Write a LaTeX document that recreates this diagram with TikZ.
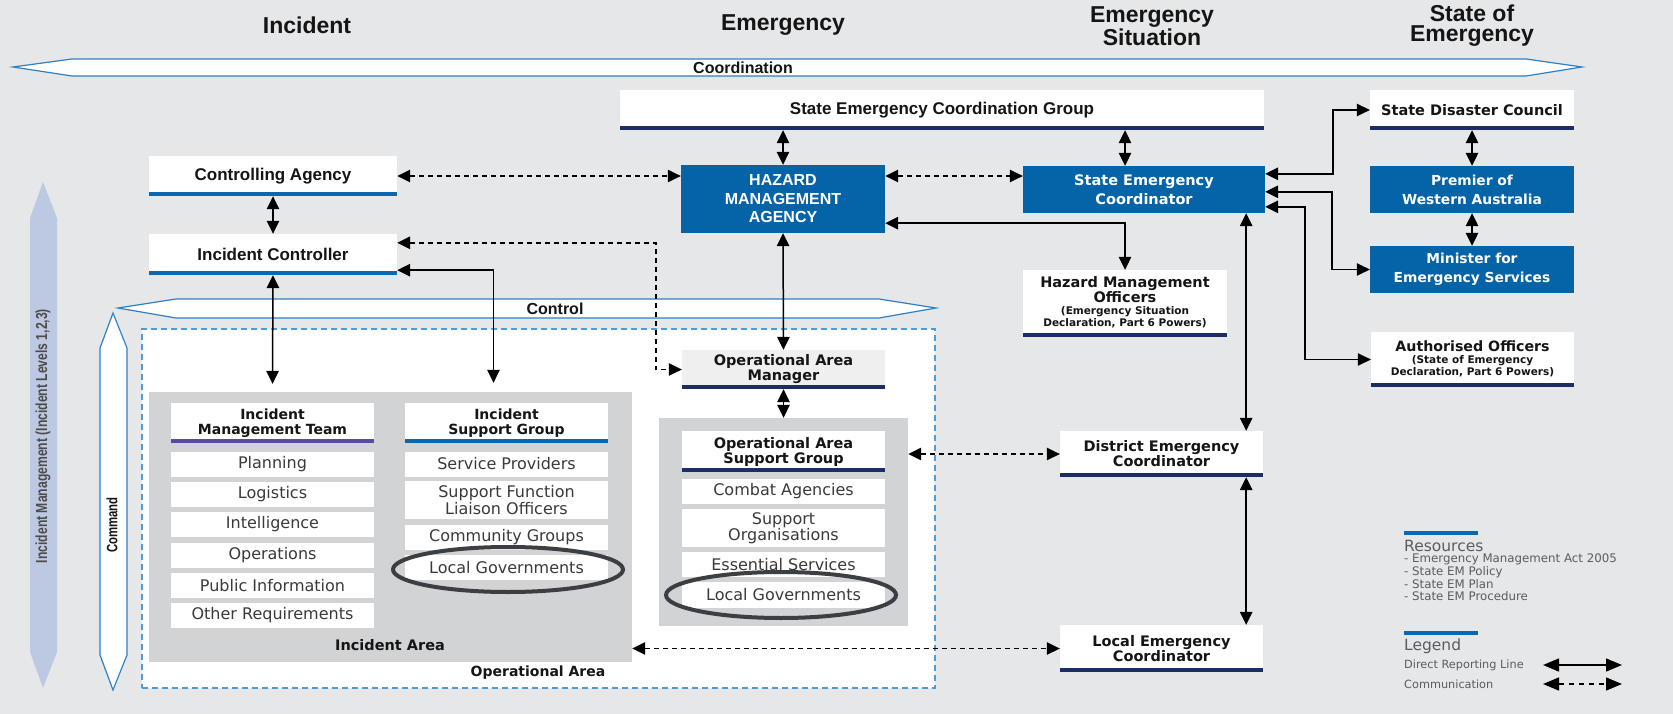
\documentclass[tikz,border=0pt]{standalone}
\usepackage{fontspec}
\setmainfont{Liberation Sans}
\newfontfamily\wide{DejaVu Sans}
\newfontfamily\condf[FakeStretch=0.76]{Liberation Sans}
\usetikzlibrary{arrows.meta,calc}
\definecolor{bg}{HTML}{E6E7E9}
\definecolor{navy}{HTML}{1C2C66}
\definecolor{midblue}{HTML}{0A68B0}
\definecolor{purp}{HTML}{5B4B9E}
\definecolor{hblue}{HTML}{0563A7}
\definecolor{outl}{HTML}{2F80C2}
\definecolor{oadash}{HTML}{4F9CD4}
\definecolor{iagray}{HTML}{D1D3D5}
\definecolor{lav}{HTML}{BDC9E3}
\definecolor{ellc}{HTML}{3B3E42}
\definecolor{txt}{HTML}{151515}
\definecolor{itxt}{HTML}{3A3A3A}
\definecolor{legtxt}{HTML}{5A5C60}
\definecolor{oamfill}{HTML}{EFEFF0}
\newcommand\fs[2]{\fontsize{#1}{#2}\selectfont}
\newcommand\ubar[2]{\fill[#2] ([yshift=4pt]#1.south west) rectangle (#1.south east);}
\begin{document}
\begin{tikzpicture}[x=1pt,y=-1pt,
  wb/.style={fill=white, inner sep=0pt, align=center, text=txt},
  bb/.style={fill=hblue, inner sep=0pt, align=center, text=white},
  hd/.style={font=\wide\bfseries\fs{14.5}{15}},
  din/.style={font=\bfseries\fs{17}{18}},
  it/.style={fill=white, inner sep=0pt, align=center, text=itxt, minimum width=203pt, minimum height=25pt, font=\wide\fs{16}{15}},
  lbl/.style={inner sep=0pt, text=txt, align=center},
  con/.style={line width=1.5pt, draw=black, line join=miter, {Triangle[length=13pt,width=12.5pt]}-{Triangle[length=13pt,width=12.5pt]}},
  com/.style={con, dash pattern=on 5pt off 4pt},
  legarr/.style={line width=1.5pt, draw=black, {Triangle[length=16pt,width=13pt]}-{Triangle[length=16pt,width=13pt]}},
  bigarrow/.style={draw=outl, line width=1.2pt, fill=white, line join=miter},
  legt/.style={anchor=west, inner sep=0pt, text=legtxt, align=left}
]
% background
\fill[bg] (0,0) rectangle (1673,714);

% big arrows
\fill[lav] (43,182) -- (57,218) -- (57,652) -- (43,688) -- (30,652) -- (30,218) -- cycle;
\draw[bigarrow] (13,67) -- (72,59) -- (1526,59) -- (1582,67) -- (1526,76) -- (72,76) -- cycle;
\draw[bigarrow] (113,313) -- (127,348) -- (127,655) -- (113,690) -- (100,655) -- (100,348) -- cycle;
\draw[bigarrow] (118,308) -- (176,299) -- (879,299) -- (936,308) -- (879,318) -- (176,318) -- cycle;
\node[lbl, font=\bfseries\fs{16}{16}] (coordlbl) at (743,68) {Coordination};
\node[lbl, font=\bfseries\fs{16}{16}] (ctrllbl) at (555,309) {Control};
\node[lbl, rotate=90, font=\condf\bfseries\fs{15}{15}] (cmdlbl) at (112,525) {Command};
\node[lbl, rotate=90, text=black!70, font=\condf\bfseries\fs{16}{16}] (imlbl) at (43,436) {Incident Management (Incident Levels 1,2,3)};

% titles
\node[lbl, font=\bfseries\fs{23}{20}] (t1) at (307,25) {Incident};
\node[lbl, font=\bfseries\fs{23}{20}] (t2) at (783,25) {Emergency};
\node[lbl, font=\bfseries\fs{23}{20}] (t3) at (1152,26) {Emergency\\Situation};
\node[lbl, font=\bfseries\fs{23}{20}] (t4) at (1472,26) {State of\\Emergency};

% areas
\node[draw=oadash, line width=1.3pt, dash pattern=on 6pt off 4pt, fill=white, minimum width=793pt, minimum height=359pt, inner sep=0pt] (OA) at (538.5,508.5) {};
\node[fill=iagray, minimum width=483pt, minimum height=270pt, inner sep=0pt] (IA) at (390.5,527) {};
\node[fill=iagray, minimum width=249pt, minimum height=208pt, inner sep=0pt] (OASGbox) at (783.5,522) {};
\node[lbl, font=\wide\bfseries\fs{14.5}{15}] (IAlbl) at (390,645) {Incident Area};
\node[lbl, font=\wide\bfseries\fs{14}{15}] (OAlbl) at (538,673) {Operational Area};

% top boxes
\node[wb, din, minimum width=644pt, minimum height=40pt] (SECG) at (942,110) {State Emergency Coordination Group};
\ubar{SECG}{navy}
\node[wb, din, minimum width=248pt, minimum height=40pt] (CA) at (273,176) {Controlling Agency};
\ubar{CA}{midblue}
\node[wb, din, minimum width=248pt, minimum height=41pt] (IC) at (273,254.5) {Incident Controller};
\ubar{IC}{midblue}
\node[bb, font=\bfseries\fs{16}{18.5}, minimum width=204pt, minimum height=68pt] (HMA) at (783,199) {HAZARD\\MANAGEMENT\\AGENCY};
\node[bb, font=\wide\bfseries\fs{14.5}{18.5}, minimum width=242pt, minimum height=47pt] (SEC) at (1144,189.5) {State Emergency\\Coordinator};
\node[wb, font=\wide\bfseries\fs{14.5}{15}, minimum width=204pt, minimum height=40pt] (SDC) at (1472,110) {State Disaster Council};
\ubar{SDC}{navy}
\node[bb, font=\wide\bfseries\fs{13.8}{19}, minimum width=204pt, minimum height=47pt] (Premier) at (1472,189.5) {Premier of\\Western Australia};
\node[bb, font=\wide\bfseries\fs{13.8}{19}, minimum width=204pt, minimum height=47pt] (Minister) at (1472,269.5) {Minister for\\Emergency Services};

% HMO and AO
\node[wb, minimum width=204pt, minimum height=67pt] (HMO) at (1125,303.5) {};
\ubar{HMO}{navy}
\node[lbl, font=\wide\bfseries\fs{14.5}{15}] (HMOt) at (1125,289.5) {Hazard Management\\Officers};
\node[lbl, font=\wide\bfseries\fs{10.5}{11.5}] (HMOs) at (1125,317.5) {(Emergency Situation\\Declaration, Part 6 Powers)};
\node[wb, minimum width=203pt, minimum height=55pt] (AO) at (1472.5,359.5) {};
\ubar{AO}{navy}
\node[lbl, font=\wide\bfseries\fs{14.2}{15}] (AOt) at (1472.5,346) {Authorised Officers};
\node[lbl, font=\wide\bfseries\fs{10.5}{12.5}] (AOs) at (1472.5,366.5) {(State of Emergency\\Declaration, Part 6 Powers)};

% DEC / LEC
\node[wb, hd, minimum width=203pt, minimum height=46pt] (DEC) at (1161.5,454) {District Emergency\\Coordinator};
\ubar{DEC}{navy}
\node[wb, hd, minimum width=203pt, minimum height=47pt] (LEC) at (1161.5,648.5) {Local Emergency\\Coordinator};
\ubar{LEC}{navy}

% Operational area manager / support group
\node[wb, hd, fill=oamfill, minimum width=203pt, minimum height=39pt] (OAM) at (783.5,369.5) {Operational Area\\Manager};
\ubar{OAM}{navy}
\node[wb, hd, minimum width=203pt, minimum height=41pt] (OASGh) at (783.5,451.5) {Operational Area\\Support Group};
\ubar{OASGh}{navy}
\node[it] (combat) at (783.5,491) {Combat Agencies};
\node[it, minimum height=38pt, font=\wide\fs{16}{15}] (suporg) at (783.5,528) {Support\\Organisations};
\node[it] (essent) at (783.5,564.5) {Essential Services};
\node[it, minimum height=26pt] (lgo) at (783.5,595) {Local Governments};
\draw[ellc, line width=4pt] (781,595) ellipse [x radius=115pt, y radius=23pt];

% Incident management team
\node[wb, font=\wide\bfseries\fs{14}{15.5}, minimum width=203pt, minimum height=40pt] (IMTh) at (272.5,423) {Incident\\Management Team};
\ubar{IMTh}{purp}
\node[it] (plan) at (272.5,464) {Planning};
\node[it] (logi) at (272.5,494) {Logistics};
\node[it] (intel) at (272.5,524.5) {Intelligence};
\node[it] (oper) at (272.5,555) {Operations};
\node[it] (pubinf) at (272.5,585.5) {Public Information};
\node[it] (other) at (272.5,615.5) {Other Requirements};

% Incident support group
\node[wb, font=\wide\bfseries\fs{14}{15.5}, minimum width=203pt, minimum height=40pt] (ISGh) at (506.5,423) {Incident\\Support Group};
\ubar{ISGh}{midblue}
\node[it] (servp) at (506.5,464) {Service Providers};
\node[it, minimum height=38pt, font=\wide\fs{16}{15}] (sflo) at (506.5,500) {Support Function\\Liaison Officers};
\node[it] (commg) at (506.5,537) {Community Groups};
\node[it] (lgi) at (506.5,567.5) {Local Governments};
\draw[ellc, line width=4pt] (508,569.5) ellipse [x radius=115pt, y radius=22.5pt];

% connectors
\draw[con] (SECG.south -| HMA.north) -- (HMA.north);
\draw[con] (SECG.south -| HMO.north) -- (SEC.north -| HMO.north);
\draw[com] (CA.east) -- (CA.east -| HMA.west);
\draw[com] (HMA.east |- CA.east) -- (SEC.west |- CA.east);
\draw[con] (CA.south) -- (IC.north);
\draw[com] ($(IC.north east)+(0,9)$) -| ($(OAM.west)+(-26,0)$) -- (OAM.west);
\draw[con] ($(IC.south east)+(0,-5)$) -| ($(ISGh.north)+(-13,-20)$);
\draw[con] (IC.south) -- ($(IMTh.north)+(0,-19)$);
\draw[con] (HMA.south) -- (OAM.north);
\draw[con] (OAM.south) -- (OASGbox.north);
\draw[con] ($(HMA.south east)+(0,-10)$) -| (HMO.north);
\draw[con] ($(SEC.north east)+(0,8)$) -| ($(SDC.west)+(-37,0)$) -- (SDC.west);
\draw[con] ($(SEC.north east)+(0,26)$) -| ($(Minister.west)+(-38,0)$) -- (Minister.west);
\draw[con] ($(SEC.north east)+(0,41)$) -| ($(AO.west)+(-66,0)$) -- (AO.west);
\draw[con] ($(SEC.south east)+(-19,0)$) -- ($(DEC.north east)+(-17,0)$);
\draw[con] ($(DEC.south east)+(-17,0)$) -- ($(LEC.north east)+(-17,0)$);
\draw[con] (SDC.south) -- (Premier.north);
\draw[con] (Premier.south) -- (Minister.north);
\draw[com] (DEC.west -| OASGbox.east) -- (DEC.west);
\draw[com] (LEC.west -| IA.east) -- (LEC.west);

% legend
\fill[midblue] (1404,531) rectangle (1478,535);
\node[legt, font=\wide\fs{15.5}{16}] (res) at (1404,546) {Resources};
\node[legt, anchor=north west, font=\wide\fs{11.8}{12.6}] (reslist) at (1404,554) {- Emergency Management Act 2005\\- State EM Policy\\- State EM Plan\\- State EM Procedure};
\fill[midblue] (1404,631) rectangle (1478,635);
\node[legt, font=\wide\fs{15.5}{16}] (leg) at (1404,646) {Legend};
\node[legt, font=\wide\fs{11.3}{12}] (drl) at (1404,665) {Direct Reporting Line};
\node[legt, font=\wide\fs{11.3}{12}] (comm) at (1404,684) {Communication};
\coordinate (l1a) at (1543,665);
\coordinate (l1b) at (1622,665);
\coordinate (l2a) at (1543,684);
\coordinate (l2b) at (1622,684);
\draw[legarr] (l1a) -- (l1b);
\draw[legarr, dash pattern=on 5pt off 5pt] (l2a) -- (l2b);
\end{tikzpicture}
\end{document}
